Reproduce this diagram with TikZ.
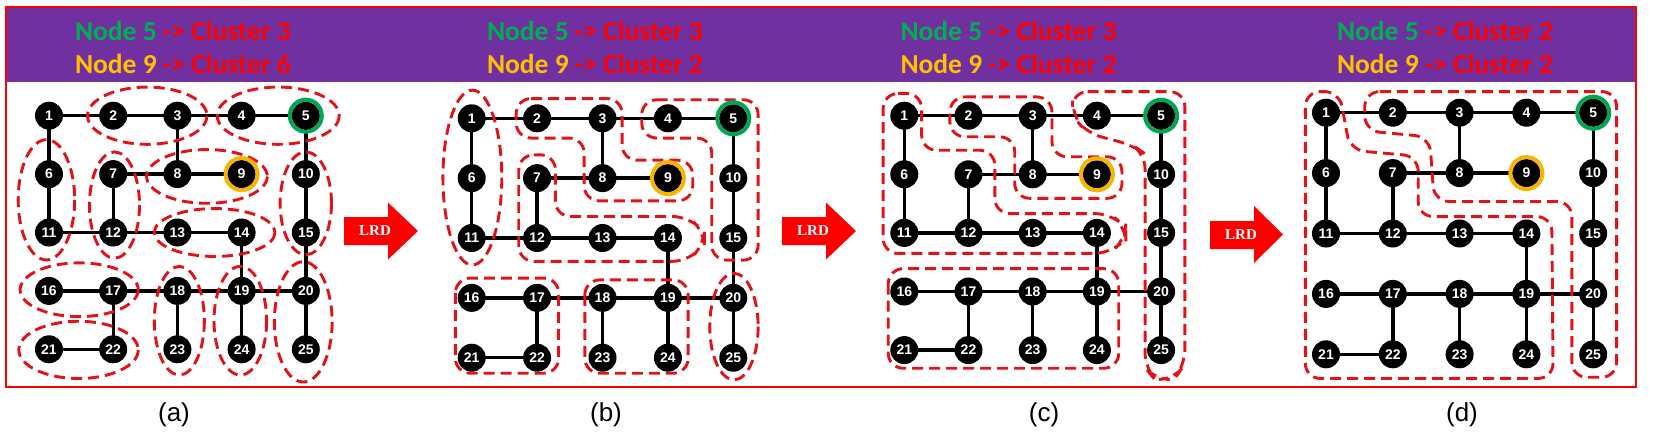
\documentclass[tikz,border=0pt]{standalone}
\usepackage{fontspec}
\setmainfont{Liberation Sans}
\newfontfamily\hdrfont{Carlito}
\newfontfamily\lrdfont{Liberation Serif}
\definecolor{hpurple}{RGB}{112,48,160}
\definecolor{hgreen}{RGB}{0,176,80}
\definecolor{horange}{RGB}{255,192,0}
\definecolor{hred}{RGB}{255,0,0}
\definecolor{clred}{RGB}{226,18,24}
\definecolor{ringgreen}{RGB}{0,166,81}
\definecolor{ringorange}{RGB}{247,180,0}
\pgfdeclarelayer{edgelayer}
\pgfdeclarelayer{cluslayer}
\pgfsetlayers{edgelayer,cluslayer,main}
\tikzset{
  gnode/.style={circle, fill=black, minimum size=28pt, inner sep=0pt, text=white,
    font=\bfseries\fontsize{14}{14}\selectfont},
  gedge/.style={line width=3.4pt, draw=black},
  clus/.style={draw=clred, line width=2.9pt, dash pattern=on 11pt off 6pt, rounded corners=15pt},
  ringG/.style={draw=ringgreen, line width=4pt},
  ringO/.style={draw=ringorange, line width=4pt},
  hdr/.style={anchor=base, text=hred, inner sep=0pt,
    font=\hdrfont\bfseries\fontsize{27.5}{30}\selectfont},
  lrdtext/.style={text=white, inner sep=0pt, font=\lrdfont\bfseries\fontsize{15}{15}\selectfont},
  lrdarrow/.style={fill=hred},
  capt/.style={inner sep=0pt, font=\fontsize{26}{26}\selectfont},
}
\newcommand{\drawgraph}[1]{%
  \foreach \i in {1,...,25}{%
    \pgfmathtruncatemacro{\cc}{mod(\i-1,5)}%
    \pgfmathtruncatemacro{\rr}{div(\i-1,5)}%
    \node[gnode] (#1-\i) at (\cc,\rr) {\i};
  }%
  \draw[ringG] (#1-5.center) circle [radius=16pt];
  \draw[ringO] (#1-9.center) circle [radius=16pt];
  \begin{pgfonlayer}{edgelayer}
    \foreach \u/\v in {1/2,2/3,3/4,4/5,1/6,6/11,3/8,7/8,8/9,5/10,10/15,15/20,7/12,11/12,12/13,13/14,14/19,16/17,17/18,18/19,19/20,17/22,21/22,18/23,19/24,20/25}{%
      \draw[gedge] (#1-\u.center) -- (#1-\v.center);
    }%
  \end{pgfonlayer}
}
\begin{document}
\begin{tikzpicture}[x=1pt,y=-1pt]
\useasboundingbox (0,0) rectangle (1657,439);
% frame and header band
\fill[hpurple] (6,7) rectangle (1636,82);
\draw[hred, line width=1.8pt] (6,7) rectangle (1636,387);

% header texts
\node[hdr] (ha1) at (183,40) {\textcolor{hgreen}{Node 5} -> Cluster 3};
\node[hdr] (ha2) at (183,73.5) {\textcolor{horange}{Node 9} -> Cluster 6};
\node[hdr] (hb1) at (595,40) {\textcolor{hgreen}{Node 5} -> Cluster 3};
\node[hdr] (hb2) at (595,73.5) {\textcolor{horange}{Node 9} -> Cluster 2};
\node[hdr] (hc1) at (1008.5,40) {\textcolor{hgreen}{Node 5} -> Cluster 3};
\node[hdr] (hc2) at (1008.5,73.5) {\textcolor{horange}{Node 9} -> Cluster 2};
\node[hdr] (hd1) at (1445,40) {\textcolor{hgreen}{Node 5} -> Cluster 2};
\node[hdr] (hd2) at (1445,73.5) {\textcolor{horange}{Node 9} -> Cluster 2};

% LRD arrows
\fill[lrdarrow] (344,217) -- (388,217) -- (388,202.5) -- (418,231) -- (388,259.5) -- (388,245) -- (344,245) -- cycle;
\node[lrdtext] (lrd1) at (375,231) {LRD};
\fill[lrdarrow] (782,217) -- (826,217) -- (826,202.5) -- (856,231) -- (826,259.5) -- (826,245) -- (782,245) -- cycle;
\node[lrdtext] (lrd2) at (813,231) {LRD};
\fill[lrdarrow] (1210,221) -- (1254,221) -- (1254,206) -- (1283,234.5) -- (1254,263) -- (1254,249) -- (1210,249) -- cycle;
\node[lrdtext] (lrd3) at (1241,235) {LRD};

% captions
\node[capt] (capa) at (174,415) {(a)};
\node[capt] (capb) at (606,415) {(b)};
\node[capt] (capc) at (1044,415) {(c)};
\node[capt] (capd) at (1462,415) {(d)};

% ---------- panel (a)
\begin{scope}[shift={(49,115.7)}, x=64.2pt, y=-58.4pt]
  \drawgraph{a}
  \begin{pgfonlayer}{cluslayer}
    \draw[clus] (1.53,0) ellipse [x radius=0.93, y radius=0.49];
    \draw[clus] (3.57,0) ellipse [x radius=0.95, y radius=0.49];
    \draw[clus] (-0.04,1.44) ellipse [x radius=0.44, y radius=1.03];
    \draw[clus] (1.02,1.53) ellipse [x radius=0.39, y radius=0.91];
    \draw[clus] (2.46,1.04) ellipse [x radius=0.94, y radius=0.46];
    \draw[clus] (2.58,2.0) ellipse [x radius=0.94, y radius=0.41];
    \draw[clus] (4.0,1.5) ellipse [x radius=0.40, y radius=0.88];
    \draw[clus] (0.47,2.98) ellipse [x radius=0.92, y radius=0.46];
    \draw[clus] (0.46,4.01) ellipse [x radius=0.93, y radius=0.49];
    \draw[clus] (2.03,3.51) ellipse [x radius=0.39, y radius=0.93];
    \draw[clus] (2.98,3.51) ellipse [x radius=0.41, y radius=0.93];
    \draw[clus] (3.96,3.53) ellipse [x radius=0.45, y radius=1.03];
  \end{pgfonlayer}
\end{scope}

% ---------- panel (b)
\begin{scope}[shift={(471.7,118.3)}, x=65.4pt, y=-59.85pt]
  \drawgraph{b}
  \begin{pgfonlayer}{cluslayer}
    \draw[clus] (0.01,0.99) ellipse [x radius=0.45, y radius=1.46];
    \draw[clus] (0.68,-0.33) -- (2.3,-0.33) -- (2.3,0.7) -- (3.38,0.7) -- (3.38,1.38)
      -- (1.72,1.38) -- (1.72,0.33) -- (0.68,0.33) -- cycle;
    \draw[clus] (2.6,-0.31) -- (4.38,-0.31) -- (4.38,2.37) -- (3.67,2.37) -- (3.67,0.33)
      -- (2.6,0.33) -- cycle;
    \draw[clus] (0.72,0.61) -- (1.28,0.61) -- (1.28,1.64) -- (3.3,1.64) -- (3.56,1.9)
      -- (3.56,2.1) -- (3.3,2.39) -- (0.72,2.39) -- cycle;
    \draw[clus] (-0.25,2.67) rectangle (1.33,4.26);
    \draw[clus] (1.73,2.7) rectangle (3.31,4.26);
    \draw[clus] (4.01,3.48) ellipse [x radius=0.37, y radius=0.89];
  \end{pgfonlayer}
\end{scope}

% ---------- panel (c)
\begin{scope}[shift={(904.3,115.7)}, x=64.2pt, y=-58.6pt]
  \drawgraph{c}
  \begin{pgfonlayer}{cluslayer}
    \draw[clus] (0.71,-0.32) -- (2.3,-0.32) -- (2.3,0.7) -- (3.39,0.7) -- (3.39,1.41)
      -- (1.72,1.41) -- (1.72,0.36) -- (0.71,0.36) -- cycle;
    \draw[clus] (-0.33,-0.38) -- (0.27,-0.38) -- (0.27,0.59) -- (1.41,0.59) -- (1.41,1.67)
      -- (3.2,1.67) -- (3.45,1.9) -- (3.45,2.1) -- (3.2,2.35) -- (-0.33,2.35) -- cycle;
    \draw[clus] (2.62,-0.41) -- (4.37,-0.41) -- (4.37,4.25) -- (4.2,4.5) -- (3.9,4.5)
      -- (3.75,4.3) -- (3.75,0.65) -- (3.55,0.5) -- (2.85,0.3) -- (2.62,0.0) -- cycle;
    \draw[clus] (-0.25,2.61) rectangle (3.34,4.31);
  \end{pgfonlayer}
\end{scope}

% ---------- panel (d)
\begin{scope}[shift={(1326,112.7)}, x=66.8pt, y=-60.4pt]
  \drawgraph{d}
  \begin{pgfonlayer}{cluslayer}
    \draw[clus] (-0.31,-0.35) -- (0.2,-0.35) -- (0.36,0.62) -- (1.38,0.72) -- (1.38,1.72)
      -- (3.38,1.72) -- (3.4,4.4) -- (-0.31,4.4) -- cycle;
    \draw[clus] (0.58,-0.35) -- (4.35,-0.35) -- (4.35,4.38) -- (3.68,4.38) -- (3.68,1.47)
      -- (1.62,1.47) -- (1.55,0.4) -- (0.58,0.3) -- cycle;
  \end{pgfonlayer}
\end{scope}
\end{tikzpicture}
\end{document}
